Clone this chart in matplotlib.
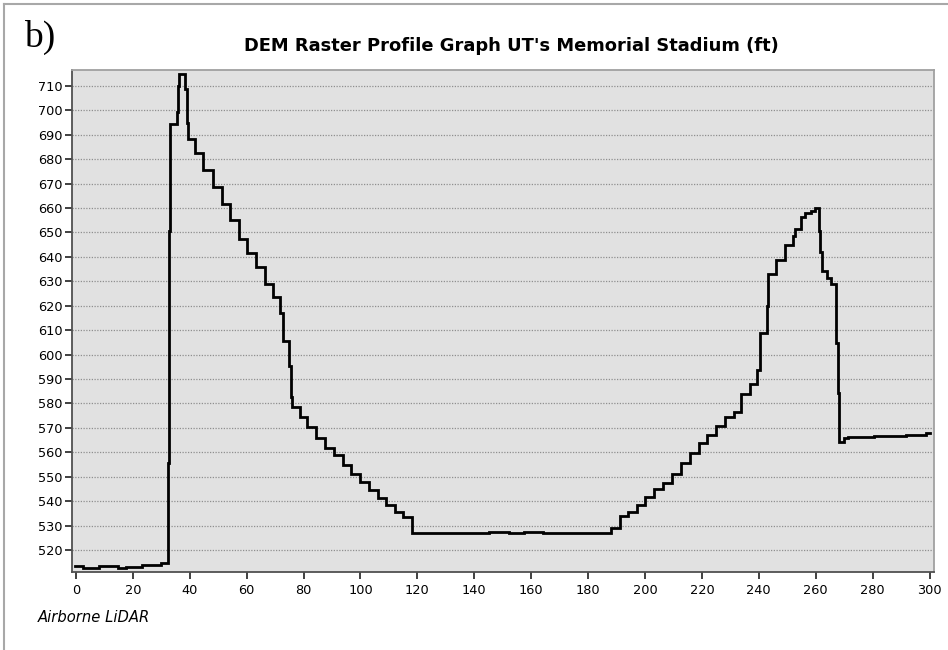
import matplotlib
matplotlib.use("Agg")
import matplotlib.pyplot as plt
from matplotlib.lines import Line2D

# Step profile: distance where each level starts, and elevation (ft)
dist = [-0.3, 2.3, 8.1, 14.6, 17.5, 23.3, 29.8, 32.4, 32.7, 33.0, 35.4, 36.0, 36.3,
        38.3, 38.9, 39.4, 41.8, 44.5, 48.0, 51.2, 54.3, 57.3, 60.2, 63.3, 66.4,
        69.3, 71.7, 72.8, 74.9, 75.4, 76.0, 78.7, 81.3, 84.5, 87.5, 90.7, 93.7,
        96.8, 99.9, 103.0, 106.0, 108.9, 112.0, 115.0, 118.2, 145.1, 152.3, 157.5,
        164.0, 188.1, 191.2, 194.1, 197.2, 200.1, 203.3, 206.4, 209.5, 212.5,
        215.7, 218.9, 221.8, 224.9, 228.0, 231.2, 233.7, 236.8, 239.5, 240.3,
        242.8, 243.4, 246.2, 249.2, 252.0, 252.8, 254.7, 256.1, 258.4, 259.6,
        261.1, 261.6, 262.3, 263.9, 265.4, 267.2, 267.8, 268.1, 270.1, 271.3,
        280.6, 291.8, 298.6, 300.0]
elev = [513.4, 512.6, 513.3, 512.5, 513.2, 513.9, 514.7, 555.8, 650.6, 694.3, 699.2, 710.0, 715.0,
        708.6, 694.7, 688.3, 682.4, 675.6, 668.4, 661.7, 655.1, 647.3, 641.5, 635.8, 628.8,
        623.7, 617.2, 605.7, 595.3, 582.8, 578.7, 574.6, 570.2, 566.0, 561.9, 558.9, 554.8,
        551.1, 548.0, 544.6, 541.4, 538.6, 535.7, 533.4, 526.8, 527.5, 526.8, 527.5,
        526.8, 529.1, 533.8, 535.6, 538.4, 541.6, 545.1, 547.6, 551.1, 555.8,
        559.6, 563.7, 567.1, 570.8, 574.3, 576.6, 583.8, 588.0, 593.7, 608.7,
        620.0, 632.9, 638.8, 644.9, 648.6, 651.4, 656.5, 658.0, 658.8, 660.0,
        650.4, 642.2, 634.2, 631.3, 629.0, 604.6, 584.2, 564.3, 565.7, 566.1,
        566.5, 567.2, 567.9, 567.9]

yticks = list(range(520, 711, 10))
xticks = list(range(0, 301, 20))

title = "DEM Raster Profile Graph UT's Memorial Stadium (ft)"

W, H = 948, 650
fig = plt.figure(figsize=(W / 100, H / 100), dpi=100)
fig.patch.set_facecolor("white")

# light border (top and left)
fig.add_artist(Line2D([4 / W, 4 / W], [0, 1 - 4 / H], transform=fig.transFigure,
                      color="#a8a8a8", lw=1.5))
fig.add_artist(Line2D([4 / W, 1], [1 - 4 / H, 1 - 4 / H], transform=fig.transFigure,
                      color="#a8a8a8", lw=1.5))

left, right, top, bottom = 72, 933.5, 70, 572
ax = fig.add_axes([left / W, 1 - bottom / H, (right - left) / W, (bottom - top) / H])
ax.set_facecolor("#e1e1e1")

ax.plot(dist, elev, drawstyle="steps-post", color="black", lw=2.0, solid_joinstyle="miter")

ax.set_xlim(-1.4, 301.4)
ax.set_ylim(511.0, 716.5)
ax.set_yticks(yticks)
ax.set_xticks(xticks)
ax.yaxis.grid(True, linestyle=(0, (1, 1.2)), color="#8f8f8f", lw=0.9)
ax.set_axisbelow(True)

font = "DejaVu Sans"
for lab in ax.get_xticklabels() + ax.get_yticklabels():
    lab.set_fontfamily(font)
    lab.set_fontsize(9.3)
ax.tick_params(axis="y", direction="out", length=5, width=1.2, color="#202020", pad=2)
ax.tick_params(axis="x", direction="out", length=5, width=1.2, color="#202020", pad=4)

ax.spines["left"].set_color("#505050")
ax.spines["bottom"].set_color("#505050")
ax.spines["top"].set_color("#a0a0a0")
ax.spines["right"].set_color("#a0a0a0")
for s in ax.spines.values():
    s.set_linewidth(1.3)

fig.text(511 / W, 1 - 46 / H, title, ha="center", va="center",
         fontfamily=font, fontweight="bold", fontsize=12.9)
fig.text(24 / W, 1 - 37 / H, "b)", ha="left", va="center",
         fontfamily="Liberation Serif", fontsize=27)
fig.text(38 / W, 1 - 618 / H, "Airborne LiDAR", ha="left", va="center",
         fontfamily=font, fontstyle="italic", fontsize=10.6)

fig.savefig("out.png", dpi=100)
